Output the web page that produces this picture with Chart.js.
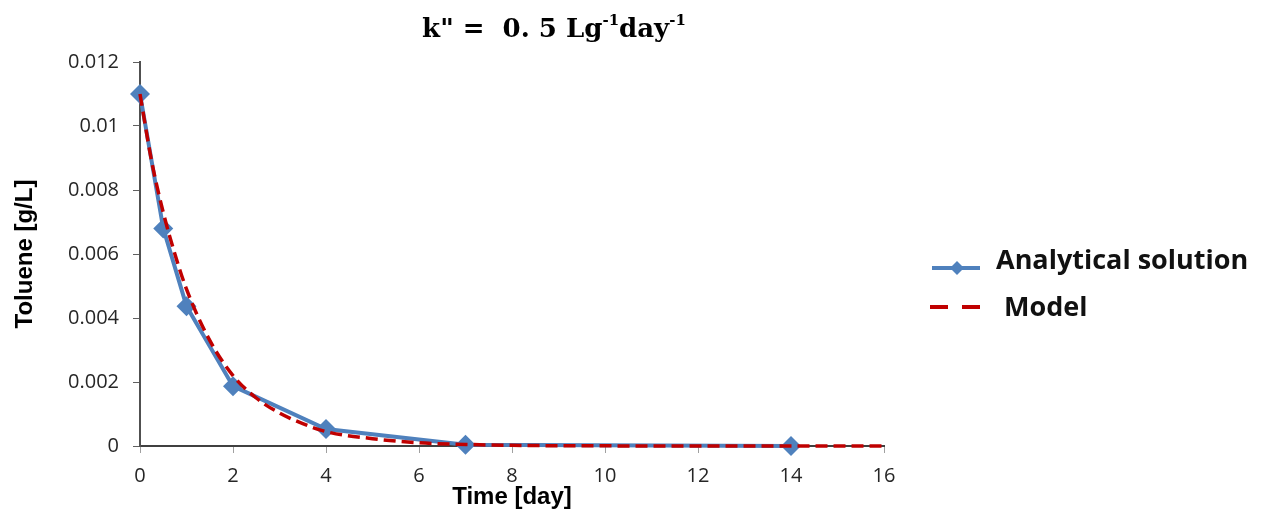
<!DOCTYPE html>
<html>
<head>
<meta charset="utf-8">
<title>Toluene decay</title>
<script src="https://cdn.jsdelivr.net/npm/chart.js@4/dist/chart.umd.min.js"></script>
<style>
  html, body { margin: 0; padding: 0; background: #fff; }
  #wrap { width: 1272px; height: 518px; }
</style>
</head>
<body>
<div id="wrap"><canvas id="chart" width="1272" height="518"></canvas></div>
<script>
/* ---------- data ---------- */
const analyticalTime = [0, 0.5, 1, 2, 4, 7, 14];
const analyticalConc = [0.011, 0.0068, 0.00437, 0.00187, 0.00053, 0.00004, 0.0];

const modelTime = [0, 0.25, 0.5, 0.75, 1, 1.5, 2, 2.5, 3, 3.5, 4, 5, 6, 7, 8, 10, 12, 14, 16];
const modelConc = [0.011, 0.0089, 0.0073, 0.006, 0.0049, 0.0033, 0.0022, 0.0015, 0.00103, 0.0007,
                   0.00045, 0.00023, 0.0001, 0.00005, 0.00002, 0.000005, 0, 0, 0];

const xTickLabels = ['0', '2', '4', '6', '8', '10', '12', '14', '16'];
const yTickLabels = ['0', '0.002', '0.004', '0.006', '0.008', '0.01', '0.012'];

const seriesNames = ['Analytical solution', 'Model'];

const BLUE = '#4f81bd';
const RED = '#c00000';

/* ---------- title: k" = 0.5 Lg-1day-1 with superscripts ---------- */
const titlePlugin = {
  id: 'rateTitle',
  afterDraw(chart) {
    const ctx = chart.ctx;
    const parts = [
      { t: 'k" =  0. 5 ', sup: false },
      { t: 'Lg', sup: false },
      { t: '-1', sup: true },
      { t: 'day', sup: false },
      { t: '-1', sup: true }
    ];
    const big = 'bold 26px "DejaVu Serif"';
    const small = 'bold 15px "DejaVu Serif"';
    ctx.save();
    let total = 0;
    parts.forEach(p => {
      ctx.font = p.sup ? small : big;
      p.w = ctx.measureText(p.t).width;
      total += p.w;
    });
    let x = 554 - total / 2;
    const base = 37;
    ctx.fillStyle = '#000';
    ctx.textBaseline = 'alphabetic';
    parts.forEach(p => {
      ctx.font = p.sup ? small : big;
      ctx.fillText(p.t, x, p.sup ? base - 12 : base);
      x += p.w;
    });
    ctx.restore();
  }
};

/* ---------- legend on the right ---------- */
const sideLegend = {
  id: 'sideLegend',
  afterDraw(chart) {
    const ctx = chart.ctx;
    ctx.save();
    ctx.font = 'bold 27px "Open Sans"';
    ctx.fillStyle = '#111';
    ctx.textBaseline = 'alphabetic';

    // analytical: solid line with diamond
    const ds0 = chart.data.datasets[0];
    ctx.strokeStyle = ds0.borderColor;
    ctx.lineWidth = 4;
    ctx.beginPath();
    ctx.moveTo(932, 268);
    ctx.lineTo(980, 268);
    ctx.stroke();
    ctx.fillStyle = ds0.pointBackgroundColor;
    ctx.beginPath();
    ctx.moveTo(957 - 7, 268);
    ctx.lineTo(957, 268 - 7);
    ctx.lineTo(957 + 7, 268);
    ctx.lineTo(957, 268 + 7);
    ctx.closePath();
    ctx.fill();
    ctx.fillStyle = '#111';
    ctx.fillText(ds0.label, 996, 269);

    // model: dashed line
    const ds1 = chart.data.datasets[1];
    ctx.strokeStyle = ds1.borderColor;
    ctx.lineWidth = 4;
    ctx.setLineDash([18, 14]);
    ctx.beginPath();
    ctx.moveTo(930, 307);
    ctx.lineTo(980, 307);
    ctx.stroke();
    ctx.setLineDash([]);
    ctx.fillText(ds1.label, 1004, 316);
    ctx.restore();
  }
};

/* ---------- chart ---------- */
const tickFont = { family: '"Open Sans"', size: 20 };
const titleFont = { family: '"Liberation Sans"', size: 24, weight: 'bold' };

new Chart(document.getElementById('chart'), {
  type: 'line',
  data: {
    datasets: [
      {
        label: seriesNames[0],
        data: analyticalTime.map((t, i) => ({ x: t, y: analyticalConc[i] })),
        borderColor: BLUE,
        borderWidth: 4,
        pointStyle: 'rectRot',
        pointRadius: 10,
        pointBackgroundColor: BLUE,
        pointBorderColor: BLUE,
        pointBorderWidth: 0,
        tension: 0,
        clip: false,
        order: 1
      },
      {
        label: seriesNames[1],
        data: modelTime.map((t, i) => ({ x: t, y: modelConc[i] })),
        borderColor: RED,
        borderWidth: 3.5,
        borderDash: [12, 6],
        pointRadius: 0,
        cubicInterpolationMode: 'monotone',
        clip: false,
        order: 0
      }
    ]
  },
  options: {
    responsive: false,
    animation: false,
    events: [],
    layout: { padding: { top: 62, right: 388, left: 0, bottom: 0 } },
    plugins: {
      legend: { display: false },
      tooltip: { enabled: false }
    },
    scales: {
      x: {
        type: 'linear',
        min: 0,
        max: 16,
        afterFit(scale) { scale.height = 72; },
        ticks: {
          stepSize: 2,
          font: tickFont,
          color: '#262626',
          padding: 11,
          maxRotation: 0,
          callback: (v, i) => xTickLabels[i]
        },
        grid: { drawOnChartArea: false, tickLength: 7, color: '#a0a0a0' },
        border: { color: '#404040', width: 2 },
        title: {
          display: true,
          text: 'Time [day]',
          font: titleFont,
          color: '#000',
          padding: { top: 0, bottom: 6 }
        }
      },
      y: {
        min: 0,
        max: 0.012,
        afterFit(scale) { scale.width = 140; },
        ticks: {
          stepSize: 0.002,
          font: tickFont,
          color: '#262626',
          padding: 14,
          callback: (v, i) => yTickLabels[i]
        },
        grid: { drawOnChartArea: false, tickLength: 7, color: '#606060' },
        border: { color: '#505050', width: 2 },
        title: {
          display: true,
          text: 'Toluene [g/L]',
          font: titleFont,
          color: '#000',
          padding: { top: 11, bottom: 0 }
        }
      }
    }
  },
  plugins: [titlePlugin, sideLegend]
});
</script>
</body>
</html>
